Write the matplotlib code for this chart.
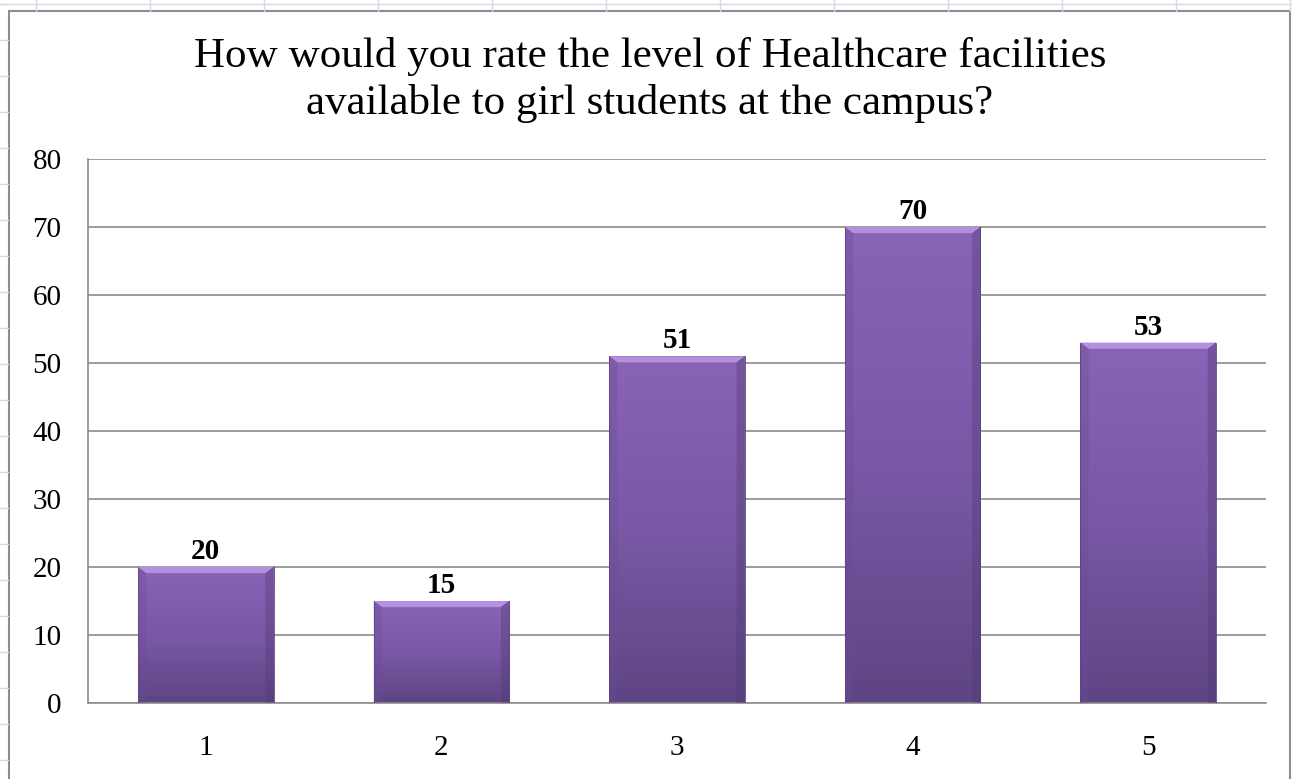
import numpy as np
import matplotlib.pyplot as plt
from matplotlib.colors import LinearSegmentedColormap
from matplotlib.patches import Polygon, Rectangle
from matplotlib.lines import Line2D

# Datos del gráfico
ratings = ['1', '2', '3', '4', '5']
counts = [20, 15, 51, 70, 53]
y_ticks = [0, 10, 20, 30, 40, 50, 60, 70, 80]
title = 'How would you rate the level of Healthcare facilities\navailable to girl students at the campus?'

plt.rcParams['font.family'] = ['Liberation Serif', 'DejaVu Serif']

fig = plt.figure(figsize=(12.92, 7.79), dpi=100)
W, H = 1292, 779

# fondo de hoja de cálculo (líneas de celdas)
for xc in range(36, W, 114):
    fig.add_artist(Line2D([xc / W, xc / W], [1 - 11 / H, 1], color='#d4dbe8', lw=1))
fig.add_artist(Line2D([0, 1], [1 - 3.5 / H, 1 - 3.5 / H], color='#d4dbe8', lw=1))
for yr in range(4, H, 36):
    fig.add_artist(Line2D([0, 8 / W], [1 - yr / H, 1 - yr / H], color='#d4dbe8', lw=1))

# marco del gráfico
fig.add_artist(Rectangle((9 / W, -0.01), (1290 - 9) / W, 1 - 11 / H + 0.01,
                         fill=False, edgecolor='#8c8c8c', lw=1.5))

ax = fig.add_axes([88 / W, 1 - 703 / H, (1266 - 88) / W, (703 - 159) / H])

x = np.arange(len(ratings))
width = 0.575
cmap = LinearSegmentedColormap.from_list('morado', ['#8a64b6', '#7a58a6', '#5e4484'])
grad = np.linspace(0, 1, 256).reshape(-1, 1)

bars = ax.bar(x, counts, width=width, color='none', edgecolor='#5a4380', lw=0.6, zorder=3)
for b, v in zip(bars, counts):
    x0, w = b.get_x(), b.get_width()
    im = ax.imshow(grad, cmap=cmap, aspect='auto', extent=[x0, x0 + w, 0, v],
                   origin='upper', zorder=2)
    im.set_clip_path(b)
    # bisel superior
    dy = 0.9
    dx = 0.035
    ax.add_patch(Polygon([[x0, v], [x0 + w, v], [x0 + w - dx, v - dy], [x0 + dx, v - dy]],
                         closed=True, facecolor='#b590e0', edgecolor='none', zorder=3))
    # bordes laterales algo más oscuros
    ax.add_patch(Polygon([[x0, v], [x0 + dx, v - dy], [x0 + dx, 0], [x0, 0]],
                         closed=True, facecolor='#6a4c94', alpha=0.35, edgecolor='none', zorder=3))
    ax.add_patch(Polygon([[x0 + w, v], [x0 + w - dx, v - dy], [x0 + w - dx, 0], [x0 + w, 0]],
                         closed=True, facecolor='#4e3870', alpha=0.35, edgecolor='none', zorder=3))
    ax.text(b.get_x() + w / 2, v + 0.3, str(v), ha='center', va='bottom',
            fontsize=21, fontweight='bold', color='black', zorder=4)

ax.set_xlim(-0.5, len(ratings) - 0.5)
ax.set_ylim(0, 80)
ax.set_yticks(y_ticks)
ax.set_xticks(x)
ax.set_xticklabels(ratings)
ax.tick_params(axis='both', length=0, labelsize=21)
ax.tick_params(axis='y', pad=19)
ax.tick_params(axis='x', pad=23)
ax.grid(axis='y', color='#8c8c8c', lw=1.2, zorder=0)
ax.set_axisbelow(True)
for s in ['top', 'right']:
    ax.spines[s].set_visible(False)
for s in ['left', 'bottom']:
    ax.spines[s].set_color('#8c8c8c')
    ax.spines[s].set_linewidth(1.2)

fig.text(650 / W, 1 - 80 / H, title, ha='center', va='center', fontsize=31,
         linespacing=1.25)

fig.savefig('out.png', dpi=100)
